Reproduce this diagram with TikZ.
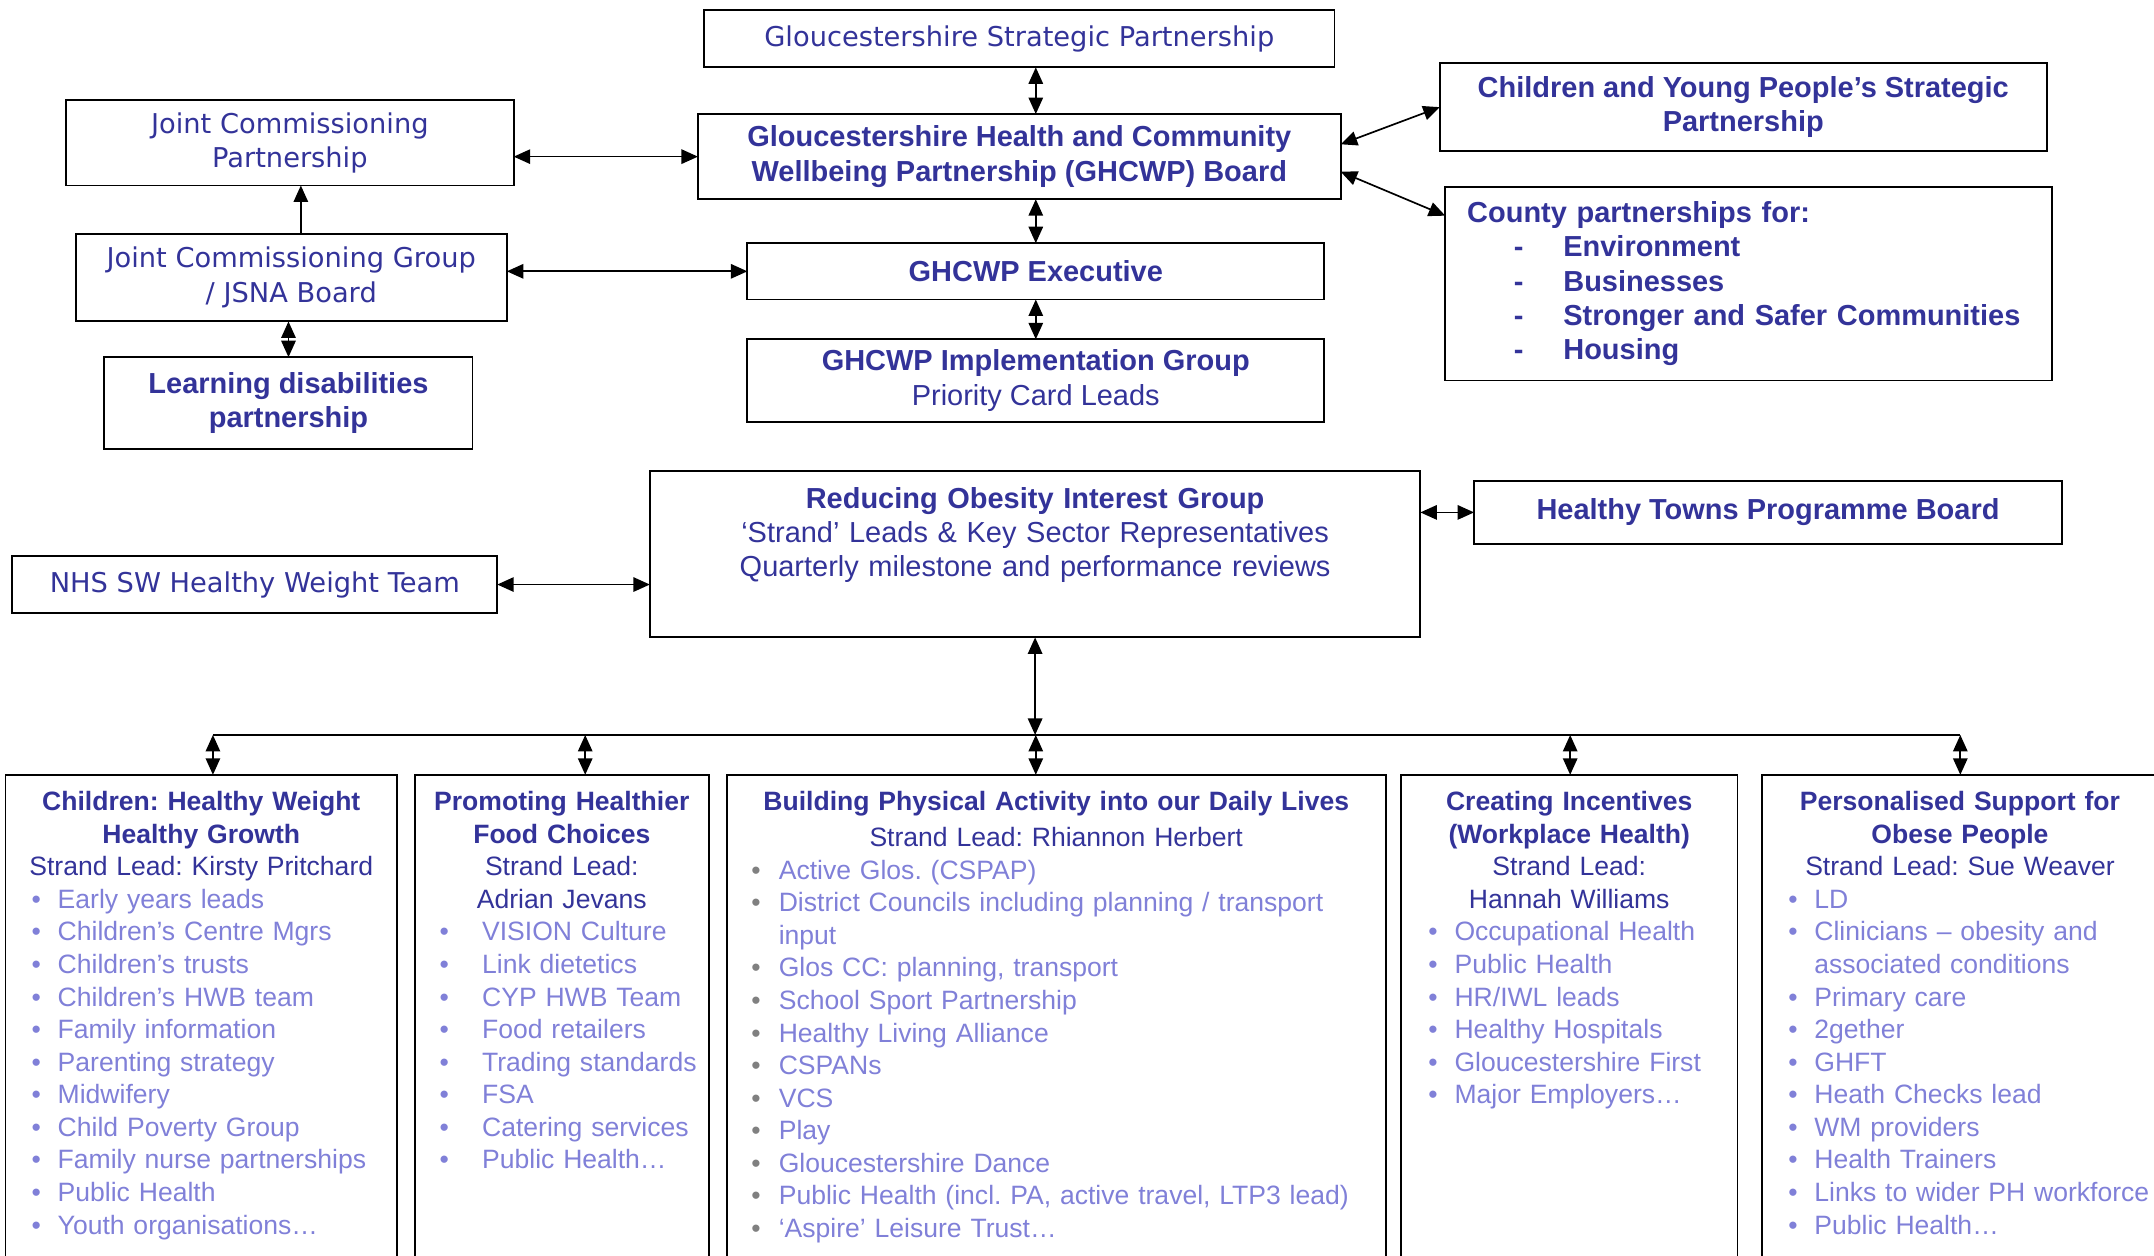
\documentclass[tikz,border=0pt]{standalone}
\usepackage{fontspec}
\setmainfont{Liberation Sans}
\newfontfamily\tahoma{DejaVu Sans}
\usetikzlibrary{arrows.meta,positioning}
\frenchspacing

\definecolor{navytext}{HTML}{333399}
\definecolor{paletext}{HTML}{8080D8}
\definecolor{dotgrey}{HTML}{808080}
\colorlet{dotcol}{paletext}

\newcommand{\topfont}{\fontsize{12}{14.2}\selectfont}
\newcommand{\tahfont}{\tahoma\fontsize{11.3}{14.2}\selectfont}
\newcommand{\strandfont}{\fontsize{11}{13.5}\selectfont}

\newlength\bulx
\newlength\txtx
\newcommand{\strandhead}[1]{{\centering #1\par}}
\newcommand{\bulitem}[1]{\par\noindent\hspace*{\bulx}\makebox[0pt][l]{\textcolor{dotcol}{\textbullet}}\hspace*{\dimexpr\txtx-\bulx\relax}\mbox{\textcolor{paletext}{#1}}}
\newcommand{\bulmore}[1]{\par\noindent\hspace*{\txtx}\mbox{\textcolor{paletext}{#1}}}

\begin{document}
\begin{tikzpicture}[
    x=0.02cm, y=-0.02cm,
    box/.style={rectangle, draw, line width=0.8pt, inner sep=0pt, outer sep=0pt, align=center, text=navytext},
    strandbox/.style={box, anchor=north, align=left, inner xsep=0pt, inner ysep=0.22cm, text height=0.3cm, text depth=7.4cm, font=\strandfont},
    arrow/.style={->, >={Triangle[length=0.24cm, width=0.21cm]}, line width=0.7pt},
    dbl/.style={arrow, <->}
]
    \clip (0,0) rectangle (1568,914);

    % partnership boards
    \node[box, minimum width=8.4cm, minimum height=0.82cm, font=\topfont\bfseries] (exec) at (754,197.5) {GHCWP Executive};
    \node[box, minimum width=9.36cm, minimum height=1.24cm, font=\topfont\bfseries, above=0.64cm of exec, xshift=-0.24cm] (board) {Gloucestershire Health and Community\\Wellbeing Partnership (GHCWP) Board};
    \node[box, minimum width=9.18cm, minimum height=0.84cm, font=\tahfont, above=0.68cm of board] (gsp) {Gloucestershire Strategic Partnership};
    \node[box, minimum width=8.4cm, minimum height=1.2cm, font=\topfont, below=0.58cm of exec] (impl) {\textbf{GHCWP Implementation Group}\\Priority Card Leads};

    \node[box, minimum width=6.28cm, minimum height=1.28cm, font=\tahfont] (jcg) at (212,202) {Joint Commissioning Group\\/ JSNA Board};
    \node[box, minimum width=6.52cm, minimum height=1.24cm, font=\tahfont, above=0.7cm of jcg, xshift=-0.02cm] (jcp) {Joint Commissioning\\Partnership};
    \node[box, minimum width=5.36cm, minimum height=1.34cm, font=\topfont\bfseries, below=0.52cm of jcg, xshift=-0.04cm] (ld) {Learning disabilities\\partnership};

    \node[box, minimum width=8.84cm, minimum height=1.28cm, font=\topfont\bfseries] (cyp) at (1269,78) {Children and Young People’s Strategic\\Partnership};
    \node[box, align=left, text width=8.2cm, inner xsep=0.32cm, minimum height=2.82cm, font=\topfont\bfseries, below=0.52cm of cyp, xshift=0.08cm] (county) {County partnerships for:\\
        \hspace*{0.68cm}\makebox[0.72cm][l]{-}Environment\\
        \hspace*{0.68cm}\makebox[0.72cm][l]{-}Businesses\\
        \hspace*{0.68cm}\makebox[0.72cm][l]{-}Stronger and Safer Communities\\
        \hspace*{0.68cm}\makebox[0.72cm][l]{-}Housing};

    % obesity group
    \node[box, anchor=north, text width=11.22cm, inner ysep=0.22cm, text height=0.32cm, text depth=1.66cm, font=\topfont] (roig) at (753.5,343) {\textbf{Reducing Obesity Interest Group}\\‘Strand’ Leads \& Key Sector Representatives\\Quarterly milestone and performance reviews};
    \node[box, minimum width=8.56cm, minimum height=0.92cm, font=\topfont\bfseries] (towns) at (1287,373) {Healthy Towns Programme Board};
    \node[box, minimum width=7.06cm, minimum height=0.82cm, font=\tahfont] (nhs) at (185.5,425.5) {NHS SW Healthy Weight Team};

    % strands
    \node[strandbox, text width=5.7cm] (kids) at (146.5,564) {\setlength\bulx{0.38cm}\setlength\txtx{0.76cm}%
        \strandhead{\textbf{Children: Healthy Weight}\\\textbf{Healthy Growth}}
        \strandhead{Strand Lead: Kirsty Pritchard}
        \bulitem{Early years leads}
        \bulitem{Children’s Centre Mgrs}
        \bulitem{Children’s trusts}
        \bulitem{Children’s HWB team}
        \bulitem{Family information}
        \bulitem{Parenting strategy}
        \bulitem{Midwifery}
        \bulitem{Child Poverty Group}
        \bulitem{Family nurse partnerships}
        \bulitem{Public Health}
        \bulitem{Youth organisations…}};
    \node[strandbox, text width=4.28cm, right=0.26cm of kids] (food) {\setlength\bulx{0.36cm}\setlength\txtx{0.98cm}%
        \strandhead{\textbf{Promoting Healthier}\\\textbf{Food Choices}}
        \strandhead{Strand Lead:\\Adrian Jevans}
        \bulitem{VISION Culture}
        \bulitem{Link dietetics}
        \bulitem{CYP HWB Team}
        \bulitem{Food retailers}
        \bulitem{Trading standards}
        \bulitem{FSA}
        \bulitem{Catering services}
        \bulitem{Public Health…}};
    \node[strandbox, text width=9.6cm, right=0.26cm of food] (act) {\setlength\bulx{0.36cm}\setlength\txtx{0.76cm}\colorlet{dotcol}{dotgrey}%
        \strandhead{\textbf{Building Physical Activity into our Daily Lives}}
        \vspace{0.05cm}
        \strandhead{Strand Lead: Rhiannon Herbert}
        \bulitem{Active Glos. (CSPAP)}
        \bulitem{District Councils including planning / transport}
        \bulmore{input}
        \bulitem{Glos CC: planning, transport}
        \bulitem{School Sport Partnership}
        \bulitem{Healthy Living Alliance}
        \bulitem{CSPANs}
        \bulitem{VCS}
        \bulitem{Play}
        \bulitem{Gloucestershire Dance}
        \bulitem{Public Health (incl. PA, active travel, LTP3 lead)}
        \bulitem{‘Aspire’ Leisure Trust…}};
    \node[strandbox, text width=4.9cm, right=0.22cm of act] (incent) {\setlength\bulx{0.4cm}\setlength\txtx{0.78cm}%
        \strandhead{\textbf{Creating Incentives}\\\textbf{(Workplace Health)}}
        \strandhead{Strand Lead:\\Hannah Williams}
        \bulitem{Occupational Health}
        \bulitem{Public Health}
        \bulitem{HR/IWL leads}
        \bulitem{Healthy Hospitals}
        \bulitem{Gloucestershire First}
        \bulitem{Major Employers…}};
    \node[strandbox, text width=5.76cm, right=0.36cm of incent] (pers) {\setlength\bulx{0.38cm}\setlength\txtx{0.76cm}%
        \strandhead{\textbf{Personalised Support for}\\\textbf{Obese People}}
        \strandhead{Strand Lead: Sue Weaver}
        \bulitem{LD}
        \bulitem{Clinicians – obesity and}
        \bulmore{associated conditions}
        \bulitem{Primary care}
        \bulitem{2gether}
        \bulitem{GHFT}
        \bulitem{Heath Checks lead}
        \bulitem{WM providers}
        \bulitem{Health Trainers}
        \bulitem{Links to wider PH workforce}
        \bulitem{Public Health…}};

    % connectors
    \draw[dbl] (gsp.south -| exec.north) -- (board.north -| exec.north);
    \draw[dbl] (board.south -| exec.north) -- (exec.north);
    \draw[dbl] (exec.south) -- (impl.north);
    \draw[dbl] (jcp.east |- board.west) -- (board.west);
    \coordinate (jcgup) at ([xshift=0.14cm]jcg.north);
    \draw[arrow] (jcgup) -- (jcgup |- jcp.south);
    \draw[dbl] (exec.west -| jcg.east) -- (exec.west);
    \draw[dbl] (ld.north |- jcg.south) -- (ld.north);
    \draw[dbl] ([yshift=0.18cm]board.east) -- (cyp.west);
    \draw[dbl] ([yshift=-0.22cm]board.east) -- ([yshift=-0.42cm]county.north west);
    \draw[dbl] (roig.east |- towns.west) -- (towns.west);
    \draw[dbl] (nhs.east) -- (nhs.east -| roig.west);

    \coordinate (tapK) at (155,535);
    \coordinate (tapF) at (426,535);
    \coordinate (tapA) at (754,535);
    \coordinate (tapI) at (1143,535);
    \coordinate (tapP) at (1427,535);
    \draw[line width=0.7pt] (tapK) -- (tapP);
    \draw[dbl] (roig.south) -- (roig.south |- tapA);
    \foreach \tp/\bx in {tapK/kids, tapF/food, tapA/act, tapI/incent, tapP/pers}
        \draw[dbl] (\tp) -- (\tp |- \bx.north);
\end{tikzpicture}
\end{document}
